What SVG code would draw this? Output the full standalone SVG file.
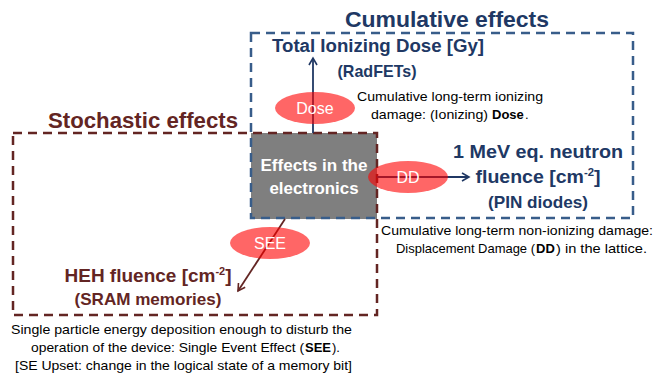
<svg xmlns="http://www.w3.org/2000/svg" width="657" height="377" viewBox="0 0 657 377">
<style>
text{font-family:"Liberation Sans",Arial,sans-serif}
.hb{font-weight:bold;fill:#203864}
.hm{font-weight:bold;fill:#632523}
.note{font-size:13px;fill:#000}
.b{font-weight:bold}
.el{fill:#ff0000;fill-opacity:0.6}
.elt{font-size:16px;fill:#fff;text-anchor:middle}
.blue{fill:none;stroke:#385d8a;stroke-width:2.5;stroke-dasharray:9,6}
.maroon{fill:none;stroke:#632523;stroke-width:2.5;stroke-dasharray:9,6}
</style>
<defs>
<marker id="ab" markerWidth="10" markerHeight="10" refX="8" refY="5" orient="auto" markerUnits="userSpaceOnUse"><path d="M1,1 L8,5 L1,9" fill="none" stroke="#203864" stroke-width="1.6"/></marker>
<marker id="am" markerWidth="10" markerHeight="10" refX="8" refY="5" orient="auto" markerUnits="userSpaceOnUse"><path d="M1,1 L8,5 L1,9" fill="none" stroke="#632523" stroke-width="1.6"/></marker>
</defs>
<g id="center">
<rect x="251" y="133" width="126" height="86" fill="#7f7f7f"/>
<text x="314" y="171" font-size="16" font-weight="bold" fill="#fff" text-anchor="middle" textLength="107" lengthAdjust="spacingAndGlyphs">Effects in the</text>
<text x="314" y="194" font-size="16" font-weight="bold" fill="#fff" text-anchor="middle" textLength="89" lengthAdjust="spacingAndGlyphs">electronics</text>
</g>
<g id="cumulative">
<rect class="blue" x="251" y="33" width="382" height="185"/>
<text class="hb" x="447" y="27" font-size="22" text-anchor="middle" textLength="204" lengthAdjust="spacingAndGlyphs">Cumulative effects</text>
</g>
<g id="stochastic">
<rect class="maroon" x="13" y="133" width="364" height="182"/>
<text class="hm" x="143" y="128" font-size="22" text-anchor="middle" textLength="190" lengthAdjust="spacingAndGlyphs">Stochastic effects</text>
</g>
<g id="connectors">
<line x1="313" y1="133" x2="313" y2="58" stroke="#203864" stroke-width="1.8" marker-end="url(#ab)"/>
<line x1="377" y1="177" x2="469" y2="177" stroke="#203864" stroke-width="1.8" marker-end="url(#ab)"/>
<line x1="285" y1="219" x2="238" y2="291" stroke="#632523" stroke-width="1.8" marker-end="url(#am)"/>
</g>
<g id="tid">
<text class="hb" x="378" y="52" font-size="18" text-anchor="middle" textLength="212" lengthAdjust="spacingAndGlyphs">Total Ionizing Dose [Gy]</text>
<text class="hb" x="377" y="77" font-size="17" text-anchor="middle" textLength="79" lengthAdjust="spacingAndGlyphs">(RadFETs)</text>
</g>
<g id="dose">
<ellipse class="el" cx="315" cy="108" rx="40" ry="16"/>
<text class="elt" x="315" y="114">Dose</text>
<text class="note" x="357" y="101" textLength="186" lengthAdjust="spacingAndGlyphs">Cumulative long-term ionizing</text>
<text class="note" x="371" y="119" textLength="117" lengthAdjust="spacingAndGlyphs">damage: (Ionizing)</text>
<text class="note b" x="492" y="119">Dose</text>
<text class="note" x="525" y="119">.</text>
</g>
<g id="neutron">
<text class="hb" x="538" y="158" font-size="19" text-anchor="middle" textLength="170" lengthAdjust="spacingAndGlyphs">1 MeV eq. neutron</text>
<text class="hb" x="538" y="183" font-size="19" text-anchor="middle" textLength="125" lengthAdjust="spacingAndGlyphs">fluence [cm<tspan font-size="11" dy="-7">-2</tspan><tspan dy="7">]</tspan></text>
<text class="hb" x="538" y="208" font-size="17" text-anchor="middle" textLength="100" lengthAdjust="spacingAndGlyphs">(PIN diodes)</text>
</g>
<g id="dd">
<ellipse class="el" cx="408" cy="177" rx="40" ry="16"/>
<text class="elt" x="408" y="183">DD</text>
<text class="note" x="381" y="235" textLength="272" lengthAdjust="spacingAndGlyphs">Cumulative long-term non-ionizing damage:</text>
<text class="note" x="396" y="253" textLength="139" lengthAdjust="spacingAndGlyphs">Displacement Damage (</text>
<text class="note b" x="536" y="253">DD</text>
<text class="note" x="556" y="253" textLength="91" lengthAdjust="spacingAndGlyphs">) in the lattice.</text>
</g>
<g id="heh">
<text class="hm" x="148" y="282" font-size="19" text-anchor="middle" textLength="167" lengthAdjust="spacingAndGlyphs">HEH fluence [cm<tspan font-size="11" dy="-7">-2</tspan><tspan dy="7">]</tspan></text>
<text class="hm" x="148" y="305" font-size="17" text-anchor="middle" textLength="147" lengthAdjust="spacingAndGlyphs">(SRAM memories)</text>
</g>
<g id="see">
<ellipse class="el" cx="270" cy="243" rx="40" ry="16"/>
<text class="elt" x="270" y="249">SEE</text>
<text class="note" x="11" y="334" textLength="341" lengthAdjust="spacingAndGlyphs">Single particle energy deposition enough to disturb the</text>
<text class="note" x="31" y="352" textLength="273" lengthAdjust="spacingAndGlyphs">operation of the device: Single Event Effect (</text>
<text class="note b" x="305" y="352">SEE</text>
<text class="note" x="332" y="352">).</text>
<text class="note" x="15" y="370" textLength="337" lengthAdjust="spacingAndGlyphs">[SE Upset: change in the logical state of a memory bit]</text>
</g>
</svg>
